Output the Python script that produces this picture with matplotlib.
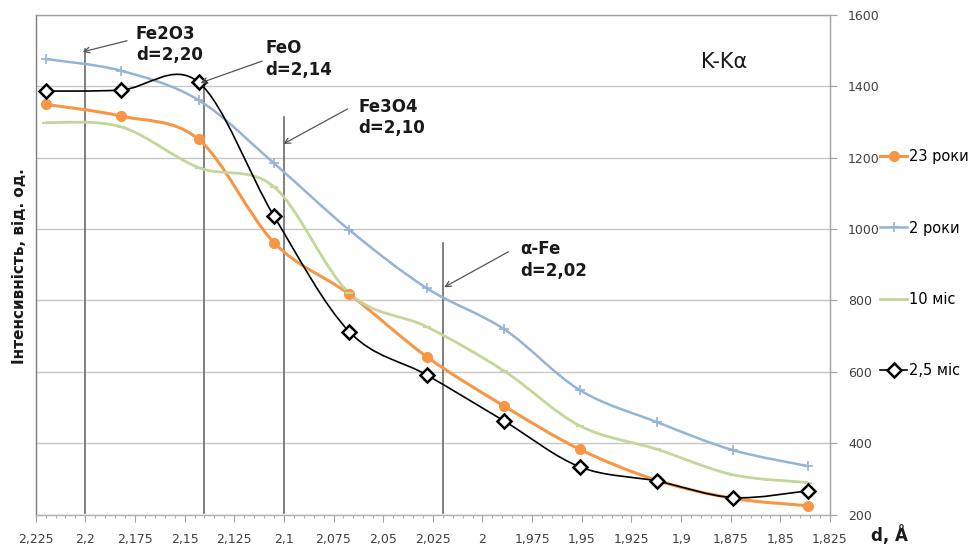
"""K-Ka intensity vs d-spacing, four exposure times, with phase reference lines."""

import numpy as np
import matplotlib
matplotlib.use("Agg")
import matplotlib.pyplot as plt
from matplotlib.path import Path
from matplotlib.patches import PathPatch
from matplotlib.lines import Line2D
from matplotlib.ticker import MultipleLocator, FuncFormatter

plt.rcParams["font.family"] = "DejaVu Sans"

# --- data ---
d_vals = [2.220, 2.182, 2.143, 2.105, 2.067, 2.028, 1.989, 1.951, 1.912, 1.874, 1.836]

y_23y = [1349, 1316, 1251, 962, 817, 642, 504, 383, 296, 246, 225]
y_2y = [1476, 1443, 1361, 1184, 997, 834, 719, 549, 459, 381, 336]
y_10m = [1298, 1286, 1172, 1118, 820, 726, 602, 449, 383, 312, 290]
y_25m = [1386, 1389, 1411, 1036, 712, 591, 462, 334, 294, 248, 267]

series_labels = ["23 роки", "2 роки", "10 міс", "2,5 міс"]

phase_names = ["Fe2O3", "FeO", "Fe3O4", "α-Fe"]
phase_d = [2.20, 2.14, 2.10, 2.02]
phase_line_top = [1505, 1415, 1314, 961]

# --- styles ---
ORANGE = "#F79646"
BLUE = "#95B3D7"
GREEN = "#C3D69B"
BLACK = "#000000"
GRID = "#C8C8C8"


def smooth_path(xs, ys):
    """Excel-like smoothed line: cubic Bezier through every point."""
    pts = np.column_stack([xs, ys]).astype(float)
    n = len(pts)
    verts = [pts[0]]
    codes = [Path.MOVETO]
    for i in range(n - 1):
        p_prev = pts[max(i - 1, 0)]
        p0 = pts[i]
        p1 = pts[i + 1]
        p_next = pts[min(i + 2, n - 1)]
        c1 = p0 + (p1 - p_prev) / 6.0
        c2 = p1 - (p_next - p0) / 6.0
        verts += [c1, c2, p1]
        codes += [Path.CURVE4] * 3
    return Path(verts, codes)


fig = plt.figure(figsize=(9.75, 5.46), dpi=100)
ax = fig.add_axes([0.0366, 0.0573, 0.8147, 0.9158])

# gridlines first (under everything)
ax.set_ylim(200, 1600)
ax.set_xlim(2.225, 1.825)
ax.yaxis.set_major_locator(MultipleLocator(200))
ax.grid(axis="y", color=GRID, linewidth=1.0, zorder=0)
ax.set_axisbelow(True)

# phase reference lines
for d, top in zip(phase_d, phase_line_top):
    ax.plot([d, d], [205, top], color="#6b6b6b", linewidth=1.2, zorder=1)

series = [
    (y_23y, ORANGE, 2.2, dict(marker="o", ms=7, mfc=ORANGE, mec=ORANGE)),
    (y_2y, BLUE, 1.8, dict(marker="+", ms=7, mfc=BLUE, mec=BLUE, mew=1.2)),
    (y_10m, GREEN, 2.0, dict(marker="_", ms=6, mfc=GREEN, mec=GREEN, mew=1.5)),
    (y_25m, BLACK, 1.2, dict(marker="D", ms=7, mfc="white", mec=BLACK, mew=1.8)),
]

handles = []
for (ys, color, lw, mk), label in zip(series, series_labels):
    patch = PathPatch(smooth_path(d_vals, ys), facecolor="none", edgecolor=color,
                      linewidth=lw, zorder=3)
    ax.add_patch(patch)
    ax.plot(d_vals, ys, linestyle="none", zorder=4, **mk)
    handles.append(Line2D([], [], color=color, linewidth=lw, label=label, **mk))

# annotations
arrow_kw = dict(arrowstyle="->", color="#555555", linewidth=0.9, shrinkA=0, shrinkB=0)
label_pos = [(2.1745, 1517), (2.1094, 1476), (2.0626, 1312), (1.981, 913)]
arrow_tail = [(2.179, 1527), (2.111, 1470), (2.068, 1336), (1.987, 936)]
arrow_tip = [(2.2013, 1496), (2.142, 1409), (2.1003, 1238), (2.0193, 837)]
for name, d, pos, tail, tip in zip(phase_names, phase_d, label_pos, arrow_tail, arrow_tip):
    ax.annotate("", xy=tip, xytext=tail, arrowprops=arrow_kw, zorder=5)
    ax.text(pos[0], pos[1], f"{name}\nd={d:.2f}".replace(".", ","),
            fontsize=12, fontweight="bold", color="#1a1a1a",
            ha="left", va="center", linespacing=1.25, zorder=5)

ax.text(1.890, 1468, "K-Kα", fontsize=15, color="#1a1a1a", ha="left", va="center")

# axes styling
ax.yaxis.tick_right()
ax.tick_params(axis="y", which="major", direction="out", length=5, color="#a0a0a0",
               labelsize=9, labelcolor="#404040", pad=8)
ax.xaxis.set_major_locator(MultipleLocator(0.025))
ax.xaxis.set_minor_locator(MultipleLocator(0.005))
ax.tick_params(axis="x", which="major", direction="out", length=5, color="#a0a0a0",
               labelsize=9, labelcolor="#404040", pad=8)
ax.tick_params(axis="x", which="minor", direction="out", length=2.5, color="#a0a0a0")


def comma_fmt(v, _):
    s = f"{round(v, 3):g}"
    return s.replace(".", ",")


ax.xaxis.set_major_formatter(FuncFormatter(comma_fmt))

ax.spines["left"].set_color("#7f7f7f")
ax.spines["right"].set_color("#a0a0a0")
ax.spines["top"].set_color("#a0a0a0")
ax.spines["bottom"].set_color("#b0b0b0")
for sp in ax.spines.values():
    sp.set_linewidth(1.0)

fig.text(0.02, 0.513, "Інтенсивність, від. од.", rotation=90, fontsize=11,
         fontweight="bold", ha="center", va="center", color="#1a1a1a")
fig.text(0.912, 0.02, "d, Å", fontsize=12, fontweight="bold", ha="center",
         va="center", color="#1a1a1a")

leg = fig.legend(handles=handles, loc="upper left", bbox_to_anchor=(0.897, 0.737),
                 frameon=False, fontsize=10.5, handlelength=1.8, handletextpad=0.15,
                 labelspacing=3.85, borderaxespad=0)

fig.savefig("out.png", dpi=100)
